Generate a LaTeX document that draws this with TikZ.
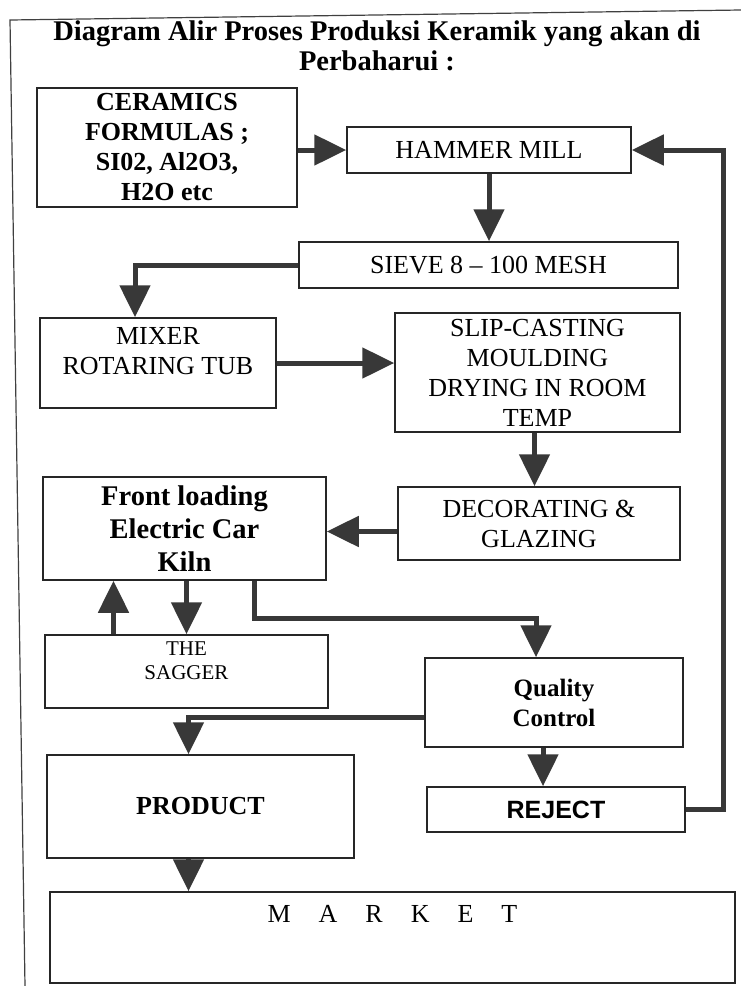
\documentclass[tikz,border=0pt]{standalone}
\usepackage{fontspec}
\setmainfont{Liberation Serif}
\newfontfamily\arialfont{Liberation Sans}
\usetikzlibrary{arrows.meta}
\newcommand\spasilebar{\spaceskip 28pt\relax}

\begin{document}
\begin{tikzpicture}[x=1pt, y=-1pt,
  kotak/.style={draw=black!85, line width=1.5pt, inner sep=0pt, align=center, font=\fontsize{26}{30}\selectfont},
  panah/.style={draw=black!78, line width=5pt, -{Triangle[width=30pt, length=32pt]}}]
\useasboundingbox (0,0) rectangle (741,986);
% Bingkai
\draw[line width=1.2pt, black!75] (741,10) -- (10,20) -- (25,986);
% Judul
\node[font=\bfseries\fontsize{28.5}{30}\selectfont, align=center] (judul) at (377,46) {Diagram Alir Proses Produksi Keramik yang akan di\\Perbaharui :};
% Kotak
\node[kotak, minimum width=260pt, minimum height=119pt, font=\bfseries\fontsize{26}{30}\selectfont] (formula) at (167,147.5) {CERAMICS\\FORMULAS ;\\SI02, Al2O3,\\H2O etc};
\node[kotak, minimum width=284pt, minimum height=46pt] (hammer) at (489,150) {HAMMER MILL};
\node[kotak, minimum width=379pt, minimum height=46pt] (sieve) at (488.5,265) {SIEVE 8 -- 100 MESH};
\node[kotak, minimum width=236pt, minimum height=90pt, text depth=24pt] (mixer) at (158,363) {MIXER\\ROTARING TUB};
\node[kotak, minimum width=285pt, minimum height=119pt] (casting) at (537.5,372.5) {SLIP-CASTING\\MOULDING\\DRYING IN ROOM\\TEMP};
\node[kotak, minimum width=282pt, minimum height=73pt] (decor) at (539,523.5) {DECORATING \&\\GLAZING};
\node[kotak, minimum width=283pt, minimum height=103pt, font=\bfseries\fontsize{28.5}{33}\selectfont] (kiln) at (184.5,528.5) {Front loading\\Electric Car\\Kiln};
\node[kotak, minimum width=283pt, minimum height=73pt, text depth=22pt, font=\fontsize{21}{24}\selectfont] (sagger) at (186.5,671.5) {THE\\SAGGER};
\node[kotak, minimum width=258pt, minimum height=89pt, font=\bfseries\fontsize{25}{30}\selectfont] (qc) at (554,702.5) {Quality\\Control};
\node[kotak, minimum width=307pt, minimum height=103pt, font=\bfseries\fontsize{26}{30}\selectfont] (product) at (200.5,806.5) {PRODUCT};
\node[kotak, minimum width=258pt, minimum height=45pt, font=\arialfont\bfseries\fontsize{25}{30}\selectfont] (reject) at (556,809.5) {REJECT};
\node[kotak, minimum width=685pt, minimum height=91pt, text depth=48pt, font=\fontsize{26}{30}\selectfont\spasilebar] (market) at (392.5,937.5) {M A R K E T};
% Panah
\draw[panah] (formula.east |- hammer.west) -- (hammer.west);
\draw[panah] (hammer.south) -- (hammer.south |- sieve.north);
\draw[panah] (sieve.west) -| ([xshift=-23pt]mixer.north);
\draw[panah] (mixer.east) -- (mixer.east -| casting.west);
\draw[panah] ([xshift=-3pt]casting.south) -- ([xshift=-3pt]casting.south |- decor.north);
\draw[panah] ([yshift=-8pt]decor.west) -- ([yshift=-8pt]decor.west -| kiln.east);
\draw[panah] ([xshift=2pt]kiln.south) -- ([xshift=2pt]kiln.south |- sagger.north);
\draw[panah] ([xshift=-73pt]sagger.north) -- ([xshift=-73pt]sagger.north |- kiln.south);
\draw[panah] ([xshift=70pt]kiln.south) -- ++(0,38) -| ([xshift=-18pt]qc.north);
\draw[panah] ([yshift=-15pt]qc.west) -| ([xshift=-12pt]product.north);
\draw[panah] ([xshift=-11pt]qc.south) -- ([xshift=-11pt]qc.south |- reject.north);
\draw[panah] (reject.east) -- ++(38,0) |- (hammer.east);
\draw[panah] ([xshift=-12pt]product.south) -- ([xshift=-12pt]product.south |- market.north);
\end{tikzpicture}
\end{document}
